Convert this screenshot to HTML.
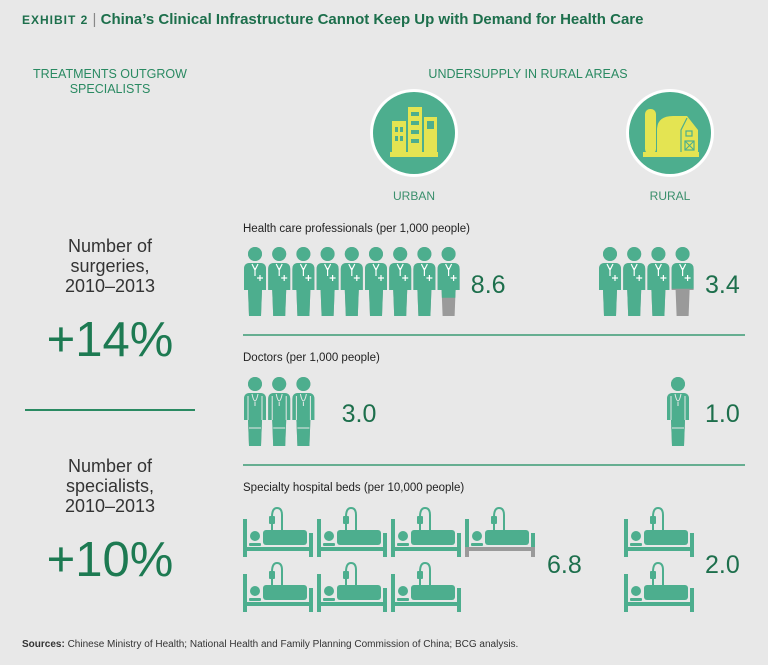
<!DOCTYPE html>
<html><head><meta charset="utf-8"><style>
body{margin:0;background:#e8e8e8;font-family:"Liberation Sans",sans-serif;}
#wrap{position:relative;width:768px;height:665px;overflow:hidden;background:#e8e8e8;}
.t{position:absolute;white-space:nowrap;}
</style></head><body>
<div id="wrap">
<div class="t" style="left:22px;top:11px;font-size:15px;font-weight:bold;color:#1d6f4c;"><span style="font-size:12px;letter-spacing:1px">EXHIBIT 2</span> <span style="font-weight:normal;color:#888">|</span> China’s Clinical Infrastructure Cannot Keep Up with Demand for Health Care</div>
<div class="t" style="left:10px;width:200px;top:67px;text-align:center;font-size:12.5px;line-height:15px;color:#2a8a62;white-space:normal">TREATMENTS OUTGROW<br>SPECIALISTS</div>
<div class="t" style="left:400px;width:256px;top:67px;text-align:center;font-size:12.5px;color:#2a8a62">UNDERSUPPLY IN RURAL AREAS</div>
<div class="t" style="left:10px;width:200px;top:236px;text-align:center;font-size:18px;line-height:20px;color:#333;white-space:normal">Number of<br>surgeries,<br>2010–2013</div>
<div class="t" style="left:10px;width:200px;top:312px;text-align:center;font-size:49px;color:#1d7a52">+14%</div>
<div style="position:absolute;left:25px;top:409px;width:170px;height:2px;background:#2a8a62"></div>
<div class="t" style="left:10px;width:200px;top:456px;text-align:center;font-size:18px;line-height:20px;color:#333;white-space:normal">Number of<br>specialists,<br>2010–2013</div>
<div class="t" style="left:10px;width:200px;top:532px;text-align:center;font-size:49px;color:#1d7a52">+10%</div>
<div class="t" style="left:22px;top:639px;font-size:10px;color:#333"><b>Sources:</b> Chinese Ministry of Health; National Health and Family Planning Commission of China; BCG analysis.</div>
<svg id="chart" width="768" height="665" style="position:absolute;left:0;top:0"></svg>
</div>
<script>
const categories = ["Health care professionals (per 1,000 people)", "Doctors (per 1,000 people)", "Specialty hospital beds (per 10,000 people)"];
const urbanValues = [8.6, 3.0, 6.8];
const ruralValues = [3.4, 1.0, 2.0];
const valueLabels = ["URBAN", "RURAL"];

const NS = "http://www.w3.org/2000/svg";
const svg = document.getElementById("chart");
const G = "#4dae8e", GR = "#9a9a9a", TXT = "#1d6f4c";
function mk(tag, attrs, parent){const e=document.createElementNS(NS,tag);for(const k in attrs)e.setAttribute(k,attrs[k]);(parent||svg).appendChild(e);return e;}
let clipId=0;

function circleIcon(cx, name, kind, label){
  const g=mk("g",{});
  
  
  mk("circle",{cx:cx,cy:133,r:44,fill:"#fff"},g);
  mk("circle",{cx:cx,cy:133,r:41,fill:G},g);
  const Y="#e4e452";
  if(kind==="urban"){
    mk("rect",{x:cx-22,y:121,width:14,height:36,fill:Y},g);
    mk("rect",{x:cx-6,y:107,width:14,height:50,fill:Y},g);
    mk("rect",{x:cx+10,y:117,width:13,height:40,fill:Y},g);
    mk("rect",{x:cx-24,y:152,width:48,height:5,fill:Y},g);
    for(let i=0;i<4;i++)mk("rect",{x:cx-3,y:112+i*9,width:8,height:4,fill:G},g);
    for(let i=0;i<2;i++)for(let j=0;j<2;j++)mk("rect",{x:cx-19+j*5,y:127+i*9,width:3,height:5,fill:G},g);
    mk("rect",{x:cx+13,y:121,width:7,height:8,fill:G},g);
  } else {
    mk("rect",{x:cx-25,y:109,width:11,height:45,rx:5,fill:Y},g);
    mk("path",{d:`M${cx-13},154 L${cx-13},130 Q${cx-13},116 ${cx+3},116 L${cx+17},116 L${cx+28},130 L${cx+28},154 Z`,fill:Y},g);
    mk("path",{d:`M${cx+11},154 L${cx+11},130 L${cx+17},118`,stroke:G,"stroke-width":1.2,fill:"none"},g);
    mk("rect",{x:cx-27,y:152,width:56,height:5,fill:Y},g);
    mk("rect",{x:cx+16,y:131,width:6,height:5,fill:"none",stroke:G,"stroke-width":1.2},g);
    mk("rect",{x:cx+15,y:141,width:9,height:9,fill:"none",stroke:G,"stroke-width":1.2},g);
    mk("path",{d:`M${cx+15},141 L${cx+24},150 M${cx+24},141 L${cx+15},150`,stroke:G,"stroke-width":1},g);
  }
  const t=mk("text",{x:cx,y:200,"text-anchor":"middle","font-size":12,fill:"#3a8f6c","font-family":"Liberation Sans, sans-serif"},g);
  t.textContent=label;
}
circleIcon(414,"urban-icon","urban",valueLabels[0]);
circleIcon(670,"rural-icon","rural",valueLabels[1]);

const labelY=[232,361,491];
categories.forEach((c,i)=>{
  const t=mk("text",{x:243,y:labelY[i],"font-size":11.5,fill:"#222","font-family":"Liberation Sans, sans-serif"});
  
  
  t.textContent=c;
});
[335,465].forEach(y=>{
  const l=mk("line",{x1:243,x2:745,y1:y,y2:y,stroke:"#3a9a74","stroke-width":1.5});
  
  
});

function personShape(g, x, y, doctor, color){
  mk("circle",{cx:x+12,cy:y+8,r:7,fill:color},g);
  mk("path",{d:`M${x+1},${y+23} Q${x+1},${y+17} ${x+7},${y+17} L${x+17},${y+17} Q${x+23},${y+17} ${x+23},${y+23} L${x+23},${y+44} L${x+19},${y+44} L${x+18},${y+70} L${x+6},${y+70} L${x+5},${y+44} L${x+1},${y+44} Z`,fill:color},g);
}
function person(x, y, frac, doctor, name){
  const g=mk("g",{});
  
  
  personShape(g,x,y,doctor,GR);
  const id="c"+(clipId++);
  const cp=mk("clipPath",{id:id},g);
  mk("rect",{x:x-2,y:y-2,width:30,height:2+70*(1-(1-frac)*0.65)},cp);
  const gg=mk("g",{"clip-path":`url(#${id})`},g);
  personShape(gg,x,y,doctor,G);
  if(doctor){
    mk("path",{d:`M${x+5},${y+20} L${x+5},${y+44} M${x+19},${y+20} L${x+19},${y+44} M${x+9},${y+18} Q${x+12},${y+32} ${x+15},${y+18} M${x+12},${y+26} L${x+12},${y+30} M${x+6},${y+52} L${x+18},${y+52}`,stroke:"#e8e8e8","stroke-width":1,fill:"none"},g);
  } else {
    mk("path",{d:`M${x+9},${y+18} L${x+12},${y+24} L${x+15},${y+18} M${x+12},${y+22} L${x+12},${y+30} M${x+14},${y+32} L${x+20},${y+32} M${x+17},${y+29} L${x+17},${y+35}`,stroke:"#fff","stroke-width":1.2,fill:"none"},g);
  }
}
function bedShape(g,x,y,color){
  mk("rect",{x:x,y:y+14,width:4,height:38,fill:color},g);
  mk("rect",{x:x,y:y+42,width:70,height:4,fill:color},g);
  mk("rect",{x:x+66,y:y+28,width:4,height:24,fill:color},g);
}
function bed(x,y,frac,name){
  const g=mk("g",{});
  
  
  if(frac<1){
    bedShape(g,x,y,GR);
    const id="c"+(clipId++);
    const cp=mk("clipPath",{id:id},g);
    mk("rect",{x:x-1,y:y,width:72,height:42},cp);
    const gg=mk("g",{"clip-path":`url(#${id})`},g);
    bedShape(gg,x,y,G);
  } else bedShape(g,x,y,G);
  mk("circle",{cx:x+12,cy:y+31,r:5,fill:G},g);
  mk("rect",{x:x+6,y:y+38,width:12,height:3,rx:1,fill:G},g);
  mk("rect",{x:x+20,y:y+25,width:44,height:15,rx:3,fill:G},g);
  mk("path",{d:`M${x+29},${y+25} L${x+29},${y+17} M${x+29},${y+12} Q${x+29},${y+3} ${x+34},${y+3} Q${x+39},${y+3} ${x+39},${y+10} L${x+39},${y+25}`,stroke:G,"stroke-width":2,fill:"none"},g);
  mk("rect",{x:x+26,y:y+11,width:6,height:8,rx:1,fill:G},g);
}
function valueText(x,y,v,name){
  const t=mk("text",{x:x,y:y,"font-size":25,fill:TXT,"font-family":"Liberation Sans, sans-serif"});
  
  
  t.textContent=v.toFixed(1);
}
function people(v, x0, y, doctor, name){
  const n=Math.ceil(v-1e-9);
  for(let i=0;i<n;i++){const f=Math.min(1,v-i);person(x0+i*24.2,y,f,doctor,name);}
  return x0+n*24.2;
}
let e=people(urbanValues[0],243,246,false,"urban-professional-icon");
valueText(e+10,293,urbanValues[0],"urban-professionals-value");
e=people(ruralValues[0],598,246,false,"rural-professional-icon");
valueText(705,293,ruralValues[0],"rural-professionals-value");
e=people(urbanValues[1],243,376,true,"urban-doctor-icon");
valueText(e+26,422,urbanValues[1],"urban-doctors-value");
e=people(ruralValues[1],666,376,true,"rural-doctor-icon");
valueText(705,422,ruralValues[1],"rural-doctors-value");
function beds(v,x0,perRow,name){
  const n=Math.ceil(v-1e-9);
  const slots=[];
  for(let i=0;i<n;i++){slots.push(Math.min(1,v-i));}
  if(slots[n-1]<1 && n>perRow){const p=slots.pop();slots.splice(perRow-1,0,p);}
  slots.forEach((f,i)=>{const r=Math.floor(i/perRow),c=i%perRow;bed(x0+c*74,505+r*55,f,name);});
}
beds(urbanValues[2],243,4,"urban-bed-icon");
valueText(547,573,urbanValues[2],"urban-beds-value");
beds(ruralValues[2],624,1,"rural-bed-icon");
valueText(705,573,ruralValues[2],"rural-beds-value");
</script>
</body></html>
